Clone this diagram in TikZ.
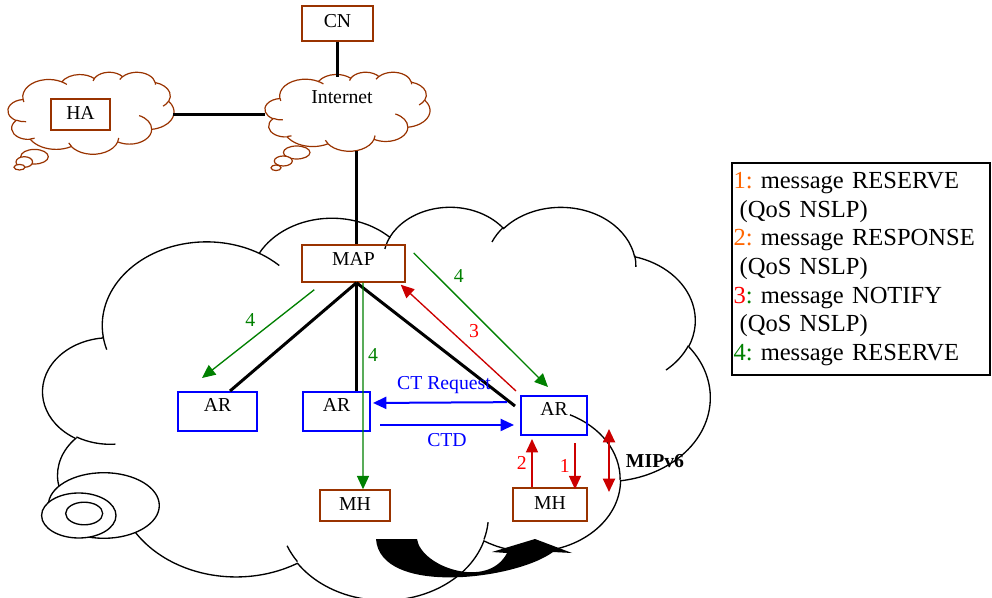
\documentclass[tikz,border=0pt]{standalone}
\usepackage{fontspec}
\setmainfont{Liberation Serif}
\usepackage{tikz}
\usetikzlibrary{arrows.meta}

\definecolor{brownline}{RGB}{153,51,0}
\definecolor{darkgreen}{RGB}{0,128,0}
\definecolor{darkred}{RGB}{204,0,0}
\definecolor{orangenum}{RGB}{255,102,0}

% cloud outline in a 100x100 box: #1 style, #2 #3 top left, #4 #5 size
\newcommand{\wordcloud}[5]{%
  \begin{scope}[shift={(#2,#3)},xscale=#4/100,yscale=#5/100]
    \draw[#1] (9.028,33.264)
      arc[start angle=-187.75,end angle=-59.65,x radius=15.632,y radius=21.273]
      arc[start angle=-152.02,end angle=-45.42,x radius=12.345,y radius=16.822]
      arc[start angle=-153.50,end angle=-37.33,x radius=10.104,y radius=13.762]
      arc[start angle=-139.72,end angle=-10.21,x radius=11.243,y radius=15.266]
      arc[start angle=-74.77,end angle=23.21,x radius=12.345,y radius=16.836]
      arc[start angle=-37.54,end angle=81.86,x radius=15.683,y radius=21.343]
      arc[start angle=0.46,end angle=121.98,x radius=13.391,y radius=18.211]
      arc[start angle=16.84,end angle=146.22,x radius=15.630,y radius=21.331]
      arc[start angle=58.98,end angle=150.19,x radius=17.870,y radius=24.405]
      arc[start angle=-276.69,end angle=-136.89,x radius=10.093,y radius=13.699]
      arc[start angle=-239.65,end angle=-95.89,x radius=10.058,y radius=13.762]
      -- cycle;
    \draw[#1,fill=none]
      (10.863,60.595) arc[start angle=85.55,end angle=120.35,x radius=10.058,y radius=13.762]
      (16.037,80.785) arc[start angle=68.24,end angle=83.31,x radius=10.093,y radius=13.699]
      (38.144,90.486) arc[start angle=146.22,end angle=158.47,x radius=15.630,y radius=21.331]
      (66.729,80.442) arc[start angle=4.74,end angle=16.84,x radius=15.630,y radius=21.331]
      (79.002,53.134) arc[start angle=-64.03,end angle=0.46,x radius=13.391,y radius=18.211]
      (96.755,35.542) arc[start angle=23.21,end angle=49.64,x radius=12.345,y radius=16.836]
      (88.713,12.560) arc[start angle=-10.21,end angle=0.82,x radius=11.243,y radius=15.266]
      (67.310,9.148) arc[start angle=-156.29,end angle=-139.72,x radius=11.243,y radius=15.266]
      (51.252,10.926) arc[start angle=-167.73,end angle=-153.50,x radius=10.104,y radius=13.762]
      (32.407,12.019) arc[start angle=-59.65,end angle=-45.71,x radius=15.632,y radius=21.273]
      (9.553,36.549) arc[start angle=163.20,end angle=172.25,x radius=15.632,y radius=21.273];
  \end{scope}}

\begin{document}
\begin{tikzpicture}[x=0.75pt,y=-0.75pt,>={Triangle[length=10pt,width=9pt]},auto,
    font=\fontsize{14.8}{17}\selectfont]
  \tikzstyle{brownbox}=[rectangle,draw=brownline,line width=1.1pt,inner sep=0pt,
                        text height=9.8pt,text depth=2.25pt]
  \tikzstyle{bluebox}=[rectangle,draw=blue,line width=1.5pt,inner sep=0pt,
                       text height=9.8pt,text depth=9.75pt]
  \tikzstyle{wire}=[line width=2.25pt]
  \tikzstyle{msg}=[->,line width=1pt]
  \tikzstyle{ctl}=[->,blue,line width=1.5pt]
  \tikzstyle{bubble}=[fill=white,line width=0.9pt]
  \useasboundingbox (0,0) rectangle (992,598);

  % clouds
  \wordcloud{line width=1pt,fill=white}{43}{206}{667}{393}
  \draw[bubble,line width=1pt] (103.8,505.5) ellipse [x radius=55.5,y radius=32.8];
  \draw[bubble,line width=1pt] (78.8,515.5) ellipse [x radius=37.2,y radius=22.5];
  \draw[bubble,line width=1pt] (84.2,513.5) ellipse [x radius=18.5,y radius=11.3];

  \wordcloud{draw=brownline,line width=0.9pt,fill=white}{265}{72}{165}{79}
  \draw[bubble,draw=brownline] (296.7,152.5) ellipse [x radius=13.3,y radius=6.5];
  \draw[bubble,draw=brownline] (283.3,161) ellipse [x radius=9,y radius=5];
  \draw[bubble,draw=brownline] (276,167.8) ellipse [x radius=5,y radius=2.8];

  \wordcloud{draw=brownline,line width=0.9pt,fill=white}{8}{72}{166}{82}
  \draw[bubble,draw=brownline] (34.5,156.7) ellipse [x radius=13.8,y radius=7.3];
  \draw[bubble,draw=brownline] (24.3,162) ellipse [x radius=8.3,y radius=5.3];
  \draw[bubble,draw=brownline] (19.5,167.2) ellipse [x radius=5.5,y radius=2.8];

  % moving arrow
  \fill (376,539) -- (417,539) .. controls (421,567) and (488,590) .. (507,553)
    -- (492,552) -- (535,539) -- (572,553) -- (553,552)
    .. controls (515,580) and (380,596) .. (376,539) -- cycle;

  % nodes
  \node[brownbox,minimum width=53.25pt,minimum height=26.25pt,text depth=4pt] (cn) at (337.5,23.5) {CN};
  \node (inet) at (342,97.5) {Internet};
  \node[brownbox,minimum width=44.25pt,minimum height=23.25pt] (ha) at (80.5,114.5) {HA};
  \node[brownbox,minimum width=77.25pt,minimum height=27.75pt,text depth=7.5pt] (map) at (353.5,263.5) {MAP};
  \node[bluebox,minimum width=59.25pt,minimum height=29.25pt] (ar1) at (217.5,411.5) {AR};
  \node[bluebox,minimum width=50.25pt,minimum height=29.25pt] (ar2) at (336.5,411.5) {AR};
  \node[bluebox,minimum width=49.5pt,minimum height=29.25pt] (ar3) at (554,415.5) {AR};
  \node[brownbox,minimum width=52.5pt,minimum height=23.25pt] (mh1) at (355,505.5) {MH};
  \node[brownbox,minimum width=55.5pt,minimum height=24.75pt] (mh2) at (550,504.5) {MH};
  \node[font=\fontsize{14.8}{17}\selectfont\bfseries] (mip) at (655,461.5) {MIPv6};

  \coordinate (inet top) at (337.5,77);
  \coordinate (inet bot) at (356,151);
  \coordinate (inet west) at (265,115);
  \coordinate (ha east) at (173,115);
  \coordinate (apex) at ([xshift=2.25pt]map.south);
  \coordinate (mip top) at (609,429);
  \coordinate (mip bot) at (609,492);

  % links
  \draw[wire] (cn) -- (inet top);
  \draw[wire] (ha east) -- (inet west);
  \draw[wire] (inet bot) -- (inet bot |- map.north);
  \draw[wire] (apex) -- ([xshift=9.4pt]ar1.north);
  \draw[wire] (apex) -- (apex |- ar2.north);
  \draw[wire] (apex) -- ([xshift=-3.75pt,yshift=7.1pt]ar3.west);

  % messages
  \draw[msg,darkgreen] ([xshift=9.75pt,yshift=-5.25pt]map.south west)
    -- node[pos=0.48,swap] {4} ([xshift=-11.6pt,yshift=9.75pt]ar1.north);
  \draw[msg,darkgreen] ([xshift=7.1pt]map.south)
    -- node[pos=0.35] {4} ([xshift=6pt]mh1.north);
  \draw[msg,darkgreen] ([xshift=6pt,yshift=7.9pt]map.east)
    -- node[pos=0.26] {4} ([xshift=-4.5pt,yshift=6pt]ar3.north);
  \draw[msg,darkred] ([xshift=-3pt,yshift=3pt]ar3.north west)
    -- node[pos=0.45,swap,red] {3} ([xshift=-3.75pt,yshift=-1.5pt]map.south east);
  \draw[ctl] ([xshift=-9.75pt,yshift=10pt]ar3.west)
    -- node[pos=0.47,above=2.5pt] {CT Request} ([xshift=1.5pt,yshift=6.4pt]ar2.east);
  \draw[ctl] ([xshift=6.75pt,yshift=-10.1pt]ar2.east)
    -- node[midway,below=2.5pt] {CTD} ([xshift=-4.5pt,yshift=-7.1pt]ar3.west);
  \draw[msg,darkred,line width=1.1pt] ([xshift=-13.5pt]mh2.north)
    -- node[red] {2} ([xshift=-16.5pt,yshift=-2.25pt]ar3.south);
  \draw[msg,darkred,line width=1.1pt] ([xshift=15.75pt,yshift=-5.25pt]ar3.south)
    -- node[swap,red] {1} ([xshift=18.75pt,yshift=-1.5pt]mh2.north);
  \draw[<->,darkred,line width=1.5pt] (mip top) -- (mip bot);

  % legend
  \node[draw,line width=1.1pt,text width=191.25pt,minimum height=159pt,inner xsep=1.1pt,
        inner ysep=0pt,align=left,font=\fontsize{18.4}{21.4}\selectfont\frenchspacing] (key) at (861,269)
    {\textcolor{orangenum}{1:} message RESERVE\\
     \hspace*{0.25em}(QoS NSLP)\\
     \textcolor{orangenum}{2:} message RESPONSE\\
     \hspace*{0.25em}(QoS NSLP)\\
     \textcolor{red}{3}\textcolor{darkgreen}{:} message NOTIFY\\
     \hspace*{0.25em}(QoS NSLP)\\
     \textcolor{darkgreen}{4:} message RESERVE};
\end{tikzpicture}
\end{document}
